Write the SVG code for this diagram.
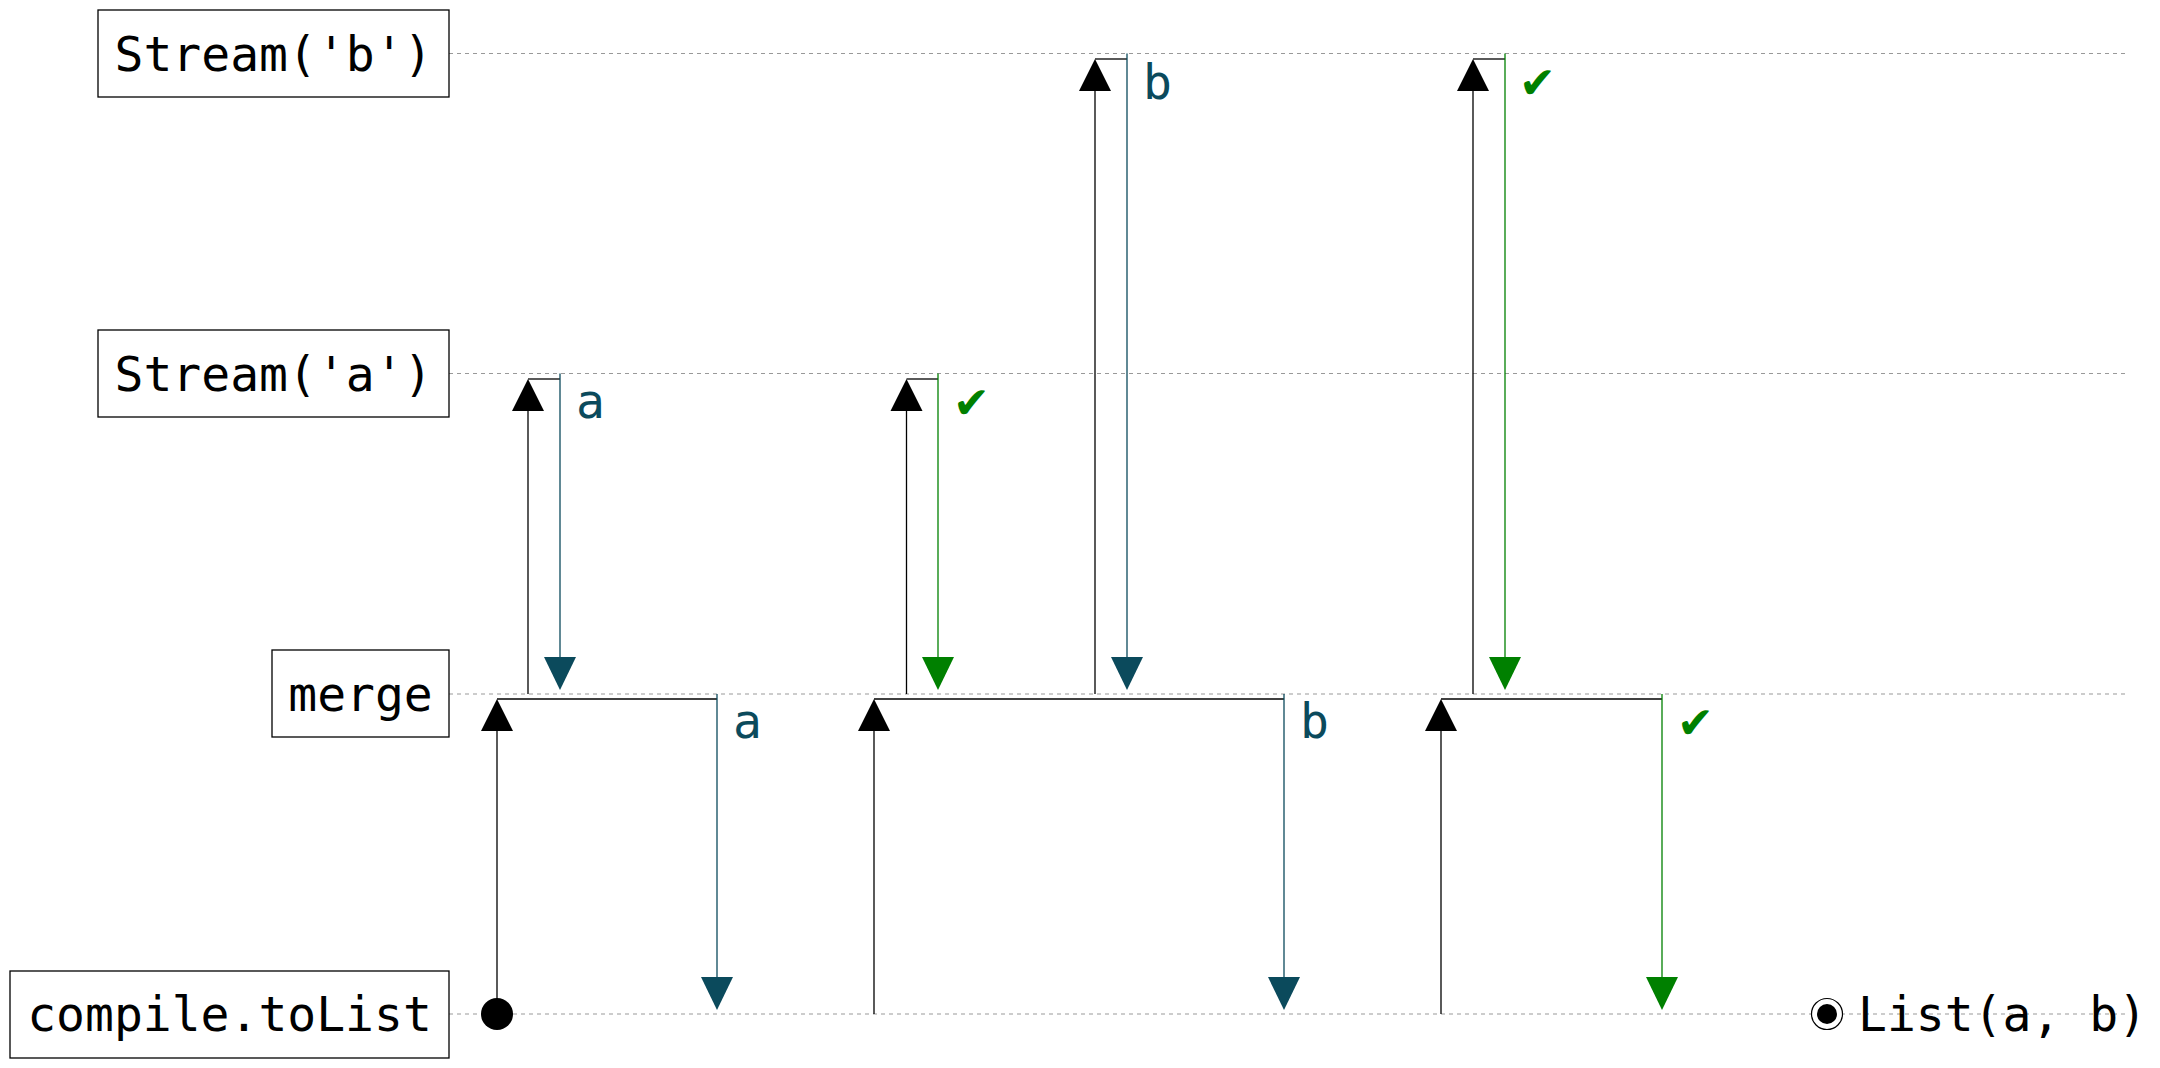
<svg xmlns="http://www.w3.org/2000/svg" width="2160" height="1068" viewBox="0 0 2160 1068">
<defs>
<style>
.lane{stroke:#999;stroke-width:1.2;stroke-dasharray:4,4;fill:none}
.box{fill:#fff;stroke:#000;stroke-width:1.3}
.name{font-family:"DejaVu Sans Mono","Liberation Mono",monospace;font-size:48px;fill:#000}
.req{stroke:#000;stroke-width:1.3;fill:none}
.rt{stroke:#0b4a5c;stroke-width:1.3;fill:none}
.rg{stroke:#008000;stroke-width:1.3;fill:none}
.lt{font-family:"DejaVu Sans Mono","DejaVu Sans",monospace;font-size:48px;fill:#0b4a5c}
.ck{font-family:"DejaVu Sans",sans-serif;font-size:44px;fill:#008000}
</style>
</defs>
<g id="lanes">
<line class="lane" x1="449" y1="53.5" x2="2125" y2="53.5"/>
<line class="lane" x1="449" y1="373.5" x2="2125" y2="373.5"/>
<line class="lane" x1="449" y1="694" x2="2125" y2="694"/>
<line class="lane" x1="449" y1="1014" x2="2125" y2="1014"/>
</g>
<g id="node-streamb"><rect class="box" x="98" y="10" width="351" height="87"/><text class="name" x="273.5" y="71" text-anchor="middle">Stream('b')</text></g>
<g id="node-streama"><rect class="box" x="98" y="330" width="351" height="87"/><text class="name" x="273.5" y="391" text-anchor="middle">Stream('a')</text></g>
<g id="node-merge"><rect class="box" x="272" y="650" width="177" height="87"/><text class="name" x="360.5" y="711" text-anchor="middle">merge</text></g>
<g id="node-compile"><rect class="box" x="10" y="971" width="439" height="87"/><text class="name" x="229.5" y="1031" text-anchor="middle">compile.toList</text></g>
<g id="connectors">
<circle cx="497" cy="1014" r="16" fill="#000"/>
<path class="req" d="M497,1014 V731"/>
<path d="M497,699 L513,731 L481,731 Z" fill="#000"/>
<path class="req" d="M497,699 H717"/>
<path class="rt" d="M717,694 V977"/>
<path d="M717,1010 L733,977 L701,977 Z" fill="#0b4a5c"/>
<text class="lt" x="733" y="738">a</text>
<path class="req" d="M528,694 V411"/>
<path d="M528,379 L544,411 L512,411 Z" fill="#000"/>
<path class="req" d="M528,379 H560"/>
<path class="rt" d="M560,373.5 V657"/>
<path d="M560,690 L576,657 L544,657 Z" fill="#0b4a5c"/>
<text class="lt" x="576" y="418">a</text>
<path class="req" d="M874,1014 V731"/>
<path d="M874,699 L890,731 L858,731 Z" fill="#000"/>
<path class="req" d="M874,699 H1284"/>
<path class="rt" d="M1284,694 V977"/>
<path d="M1284,1010 L1300,977 L1268,977 Z" fill="#0b4a5c"/>
<text class="lt" x="1300" y="738">b</text>
<path class="req" d="M906.5,694 V411"/>
<path d="M906.5,379 L922.5,411 L890.5,411 Z" fill="#000"/>
<path class="req" d="M906.5,379 H938"/>
<path class="rg" d="M938,373.5 V657"/>
<path d="M938,690 L954,657 L922,657 Z" fill="#008000"/>
<text class="ck" x="953" y="418">✔</text>
<path class="req" d="M1095,694 V91"/>
<path d="M1095,59 L1111,91 L1079,91 Z" fill="#000"/>
<path class="req" d="M1095,59 H1127"/>
<path class="rt" d="M1127,53.5 V657"/>
<path d="M1127,690 L1143,657 L1111,657 Z" fill="#0b4a5c"/>
<text class="lt" x="1143" y="99">b</text>
<path class="req" d="M1441,1014 V731"/>
<path d="M1441,699 L1457,731 L1425,731 Z" fill="#000"/>
<path class="req" d="M1441,699 H1662"/>
<path class="rg" d="M1662,694 V977"/>
<path d="M1662,1010 L1678,977 L1646,977 Z" fill="#008000"/>
<text class="ck" x="1677" y="738">✔</text>
<path class="req" d="M1473,694 V91"/>
<path d="M1473,59 L1489,91 L1457,91 Z" fill="#000"/>
<path class="req" d="M1473,59 H1505"/>
<path class="rg" d="M1505,53.5 V657"/>
<path d="M1505,690 L1521,657 L1489,657 Z" fill="#008000"/>
<text class="ck" x="1519" y="98">✔</text>
</g>
<g id="result">
<circle cx="1827" cy="1014" r="15.5" fill="#fff" stroke="#000" stroke-width="1.2"/>
<circle cx="1827" cy="1014" r="10" fill="#000"/>
<text class="name" x="1858" y="1031">List(a, b)</text>
</g>
</svg>
